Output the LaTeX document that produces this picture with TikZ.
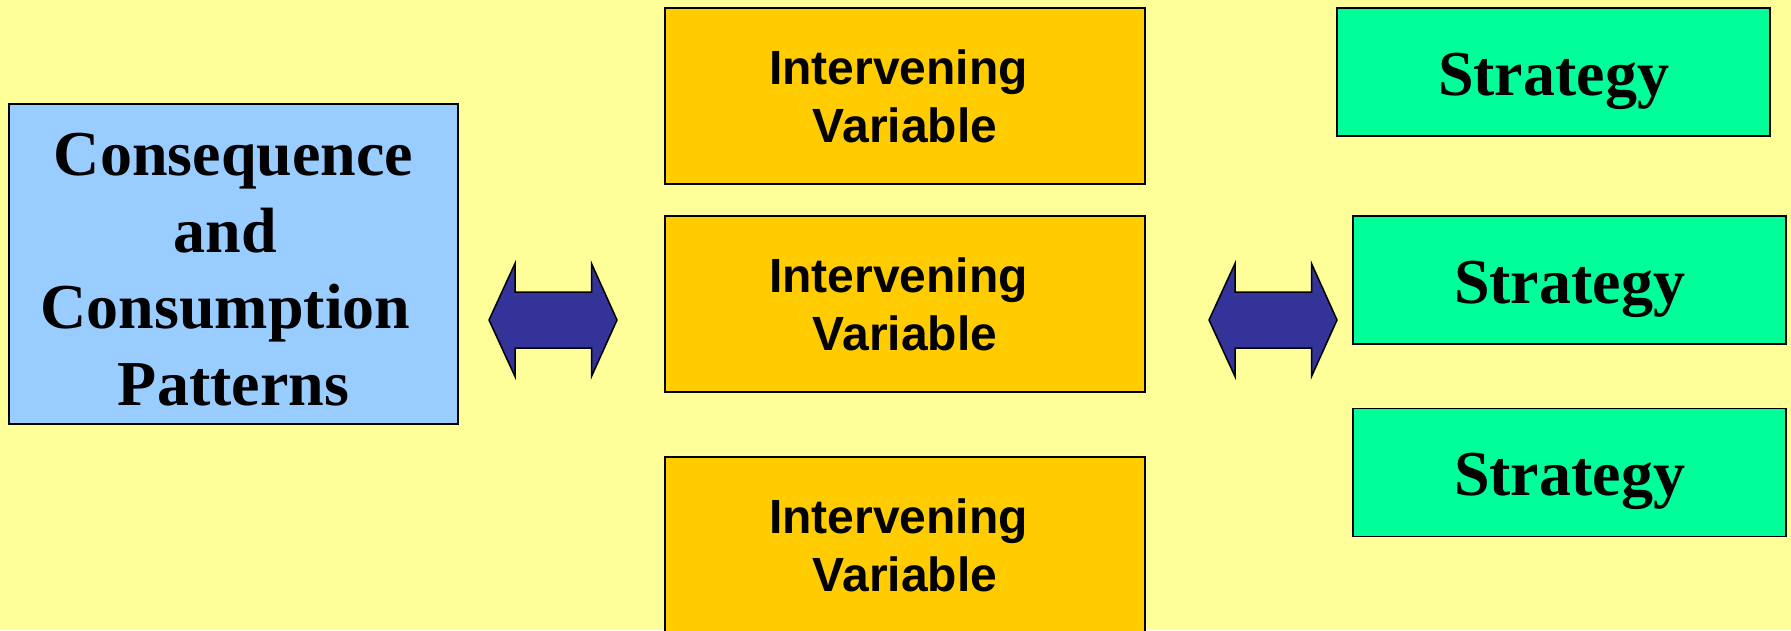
\documentclass[tikz,border=0pt]{standalone}
\usepackage{fontspec}
\setmainfont{Liberation Serif}
\newfontfamily\arialfont{Liberation Sans}
\definecolor{bgyellow}{HTML}{FFFF99}
\definecolor{skyblue}{HTML}{99CCFF}
\definecolor{goldbox}{HTML}{FFCC00}
\definecolor{mintbox}{HTML}{00FF99}
\definecolor{navyarrow}{HTML}{333399}
\begin{document}
\begin{tikzpicture}[x=1pt,y=-1pt,
  box/.style={draw=black, line width=1.5pt, inner sep=0pt, align=center},
  conbox/.style={box, fill=skyblue, minimum width=449pt, minimum height=320pt,
    font=\bfseries\fontsize{64}{76.5}\selectfont},
  varbox/.style={box, fill=goldbox, minimum width=480pt, minimum height=176pt,
    font=\arialfont\bfseries\fontsize{48}{58}\selectfont},
  stratbox/.style={box, fill=mintbox, minimum width=433pt, minimum height=128pt,
    text height=87pt, text depth=41pt,
    font=\bfseries\fontsize{64}{76.5}\selectfont},
  arrowbody/.style={draw=black, line width=1.5pt, fill=navyarrow, line join=miter},
  pics/dblarrow/.style={code={
    \draw[arrowbody] (-64,0) -- (-38,-56.5) -- (-38,-28) -- (38.5,-28)
      -- (38.5,-56.5) -- (64,0) -- (38.5,56.5) -- (38.5,28) -- (-38,28)
      -- (-38,56.5) -- cycle;
  }}
]
\useasboundingbox (0,0) rectangle (1791,630);
\clip (0,0) rectangle (1791,630);
\fill[bgyellow] (0,0) rectangle (1791,630);

% left: consequences (the invisible rule on the first line lowers the block a little)
\node[conbox] (cons) at (233.5,264)
  {\rule{0pt}{54pt}Consequence\\and\rule{16pt}{0pt}\\Consumption\rule{16pt}{0pt}\\Patterns};

% middle column: intervening variables
\node[varbox] (iv1) at (905,96)  {Intervening\rule{13pt}{0pt}\\Variable};
\node[varbox] (iv2) at (905,304) {Intervening\rule{13pt}{0pt}\\Variable};
\node[varbox] (iv3) at (905,545) {Intervening\rule{13pt}{0pt}\\Variable};

% right column: strategies
\node[stratbox] (st1) at (1553.5,72)   {Strategy};
\node[stratbox] (st2) at (1569.5,280)  {Strategy};
\node[stratbox] (st3) at (1569.5,472.5){Strategy};

% two-way block arrows between the columns
\pic (leftarrow)  at (553,320)  {dblarrow};
\pic (rightarrow) at (1273,320) {dblarrow};
\end{tikzpicture}
\end{document}
